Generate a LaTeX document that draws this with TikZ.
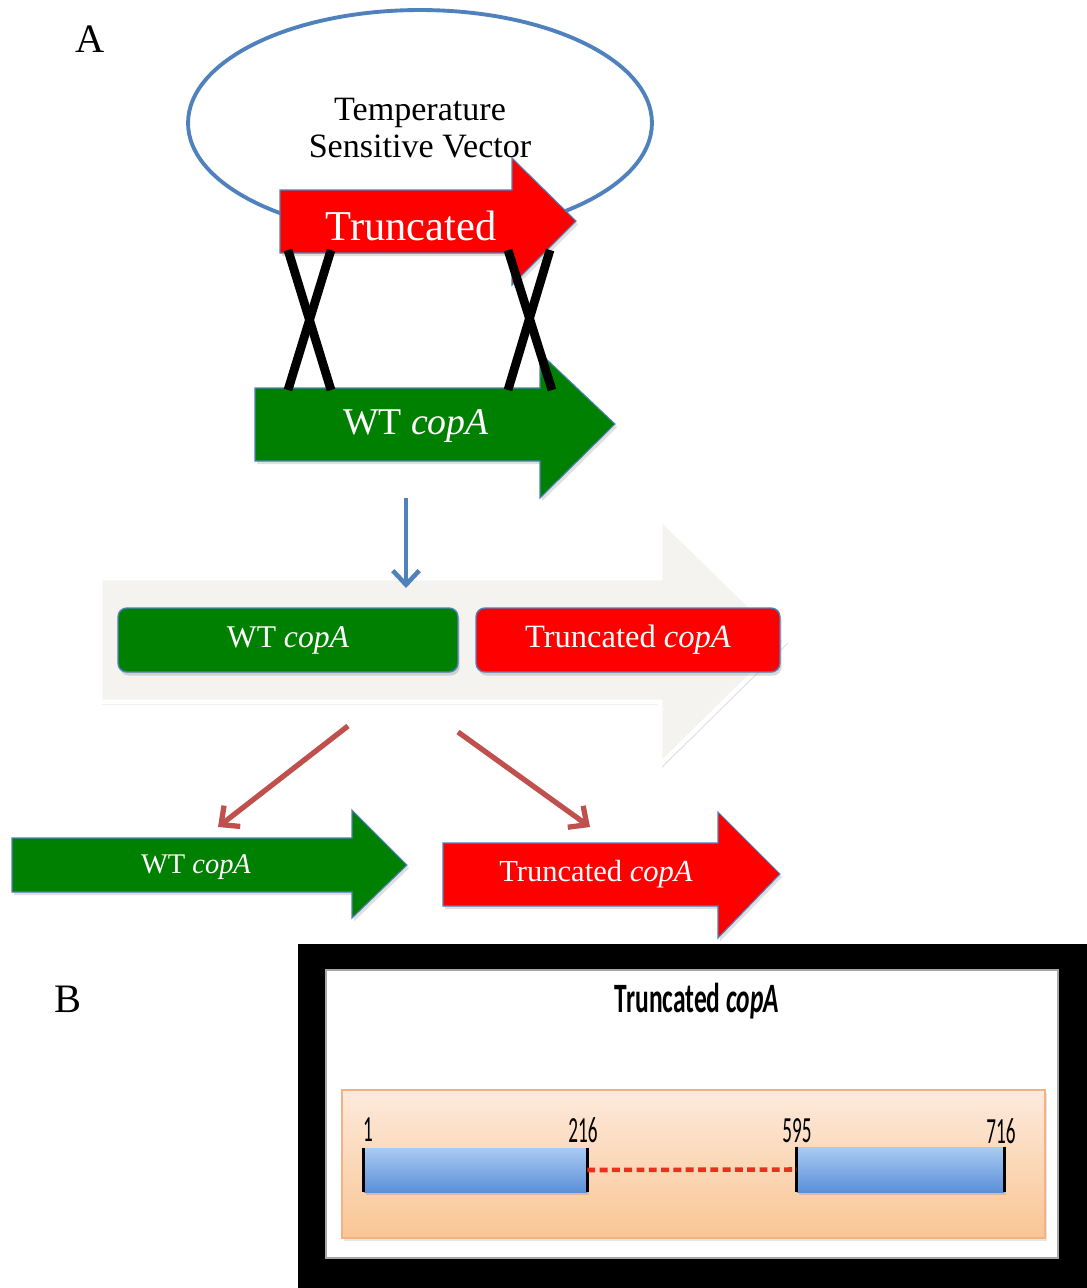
\documentclass[tikz,border=0pt]{standalone}
\usepackage{fontspec}
\setmainfont{Liberation Serif}
\newfontfamily\calibrifont{Carlito}
\usetikzlibrary{arrows.meta,shadows,shapes.geometric}
\definecolor{vblue}{HTML}{4F81BD}
\definecolor{gfill}{HTML}{008000}
\definecolor{rfill}{HTML}{FF0000}
\definecolor{brred}{HTML}{C0504D}
\definecolor{bigfill}{HTML}{F4F3EF}
\definecolor{peachtop}{HTML}{FDEADC}
\definecolor{peachbot}{HTML}{F9C594}
\definecolor{peachline}{HTML}{F4B183}
\definecolor{bartop}{HTML}{A9CBF3}
\definecolor{barbot}{HTML}{5B8FD8}
\definecolor{dashred}{HTML}{E8301C}
\tikzset{
  genearrow/.style={draw=vblue, line width=0.6pt,
    drop shadow={shadow xshift=1.2pt, shadow yshift=-1.8pt, opacity=0.25}},
  wtxt/.style={text=white, inner sep=0pt},
  xline/.style={line width=5pt, black},
  flowblue/.style={draw=vblue, line width=2.6pt, -{Straight Barb[length=8pt,width=15pt]}},
  flowred/.style={draw=brred, line width=3pt, -{Straight Barb[length=8pt,width=15pt]}},
  midbox/.style={rounded corners=5pt, draw=vblue, line width=0.8pt, text=white,
    minimum height=1.28cm, drop shadow={shadow xshift=1pt, shadow yshift=-2pt, opacity=0.3}},
  bar/.style={top color=bartop, bottom color=barbot, draw=none,
    drop shadow={shadow xshift=1pt, shadow yshift=-1.5pt, opacity=0.25}},
  barend/.style={line width=1.4pt, black},
  numlbl/.style={font=\calibrifont\fontsize{21}{24}\selectfont, xscale=0.52, inner sep=0pt},
  panellbl/.style={font=\fontsize{23}{26}\selectfont, inner sep=0pt}
}
\begin{document}
\begin{tikzpicture}[x=0.02cm,y=-0.02cm]
\useasboundingbox (0,0) rectangle (1087,1288);
\fill[white] (0,0) rectangle (1087,1288);

% Panel labels
\node[panellbl] (labA) at (90,39) {A};
\node[panellbl] (labB) at (68,999) {B};

% Vector ellipse
\node[ellipse, draw=vblue, line width=2.2pt, minimum width=9.28cm, minimum height=4.52cm, inner sep=0pt] (vector) at (420,123) {};
\node[align=center, inner sep=0pt, font=\fontsize{19.4}{21}\selectfont] (vectxt) at (420,128) {Temperature\\Sensitive Vector};

% Red truncated arrow (top)
\draw[genearrow, fill=rfill] (280,190) -- (512,190) -- (512,158) -- (576,221) -- (512,285) -- (512,253) -- (280,253) -- cycle;
\node[wtxt, font=\fontsize{24.2}{26}\selectfont] (trtop) at (411,226) {Truncated};

% Green WT arrow (top)
\draw[genearrow, fill=gfill] (255,388) -- (540,388) -- (540,353) -- (615,424) -- (540,498) -- (540,461) -- (255,461) -- cycle;
\node[wtxt, font=\fontsize{21.5}{24}\selectfont] (wttop) at (416,426) {WT \textit{copA}};

% Crossover X marks
\draw[xline] (288,250) -- (331,390);
\draw[xline] (331,250) -- (288,390);
\draw[xline] (508,250) -- (552,390);
\draw[xline] (550,250) -- (508,390);

% Big light arrow
\draw[draw=white, line width=2.6pt, fill=bigfill,
  drop shadow={shadow xshift=1.2pt, shadow yshift=-1.5pt, opacity=0.25}]
  (100,578) -- (660,578) -- (660,518) -- (786,641) -- (660,765) -- (660,702) -- (100,702) -- cycle;

% Blue arrow
\coordinate (b1) at (406,498);
\coordinate (b2) at (406,588);
\draw[flowblue] (b1) -- (b2);

\node[midbox, fill=gfill, minimum width=6.8cm, font=\fontsize{18}{20}\selectfont] (wtmid) at (288,640) {WT \textit{copA}};
\node[midbox, fill=rfill, minimum width=6.08cm, font=\fontsize{18.5}{20}\selectfont] (trmid) at (628,640) {Truncated \textit{copA}};

% Red-brown arrows
\coordinate (r1) at (348,726);
\coordinate (r2) at (218,827);
\coordinate (r3) at (458,732);
\coordinate (r4) at (590,827);
\draw[flowred] (r1) -- (r2);
\draw[flowred] (r3) -- (r4);

% Bottom green arrow
\draw[genearrow, fill=gfill] (12,838) -- (352,838) -- (352,810) -- (407,865) -- (352,918) -- (352,892) -- (12,892) -- cycle;
\node[wtxt, font=\fontsize{16.2}{18}\selectfont] (wtbot) at (196,867) {WT \textit{copA}};

% Bottom red arrow
\draw[genearrow, fill=rfill] (443,843) -- (718,843) -- (718,812) -- (780,874) -- (718,938) -- (718,906) -- (443,906) -- cycle;
\node[wtxt, font=\fontsize{17.4}{19}\selectfont] (trbot) at (596,874) {Truncated \textit{copA}};

% Panel B
\fill[black] (298,944) rectangle (1087,1288);
\draw[fill=white, draw=gray!70, line width=0.6pt] (326,970) rectangle (1058,1258);
\node[inner sep=0pt, xscale=0.61, font=\calibrifont\bfseries\fontsize{23.8}{26}\selectfont] (btitle) at (697,1001) {Truncated \textit{copA}};

\draw[top color=peachtop, bottom color=peachbot, draw=peachline, line width=0.6pt,
  drop shadow={shadow xshift=1pt, shadow yshift=-1.5pt, opacity=0.2}] (342,1090) rectangle (1045,1238);

\node[bar, minimum width=4.46cm, minimum height=0.88cm, inner sep=0pt] (bar1) at (475.5,1170) {};
\node[bar, minimum width=4.14cm, minimum height=0.9cm, inner sep=0pt] (bar2) at (900.5,1169.5) {};
\draw[barend] (bar1.north west) -- (bar1.south west);
\draw[barend] (bar1.north east) -- (bar1.south east);
\draw[barend] (bar2.north west) -- (bar2.south west);
\draw[barend] (bar2.north east) -- (bar2.south east);
\draw[dashred, line width=2.6pt, dash pattern=on 4.5pt off 2.5pt] (bar1.east) -- (bar2.west);

\node[numlbl] (n1) at (368,1130) {1};
\node[numlbl] (n216) at (583,1130) {216};
\node[numlbl] (n595) at (797,1131) {595};
\node[numlbl] (n716) at (1001,1131) {716};
\end{tikzpicture}
\end{document}
